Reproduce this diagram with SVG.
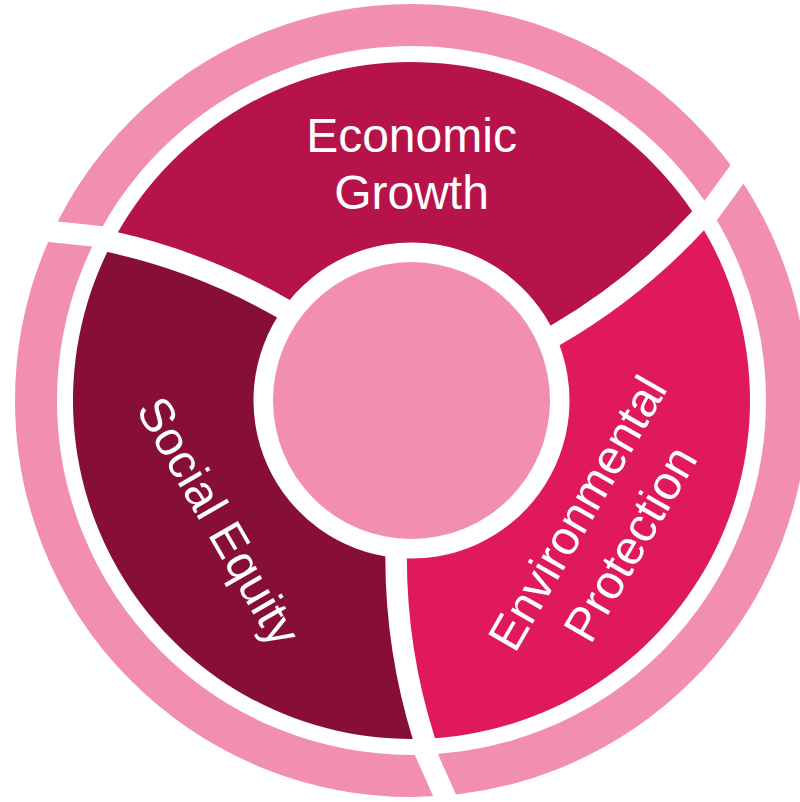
<svg xmlns="http://www.w3.org/2000/svg" width="800" height="802" viewBox="0 0 800 802">
  <style>
    .ring { fill: none; stroke: #F28FAE; stroke-width: 42; }
    .hub { fill: #F28FAE; }
    .gap { fill: none; stroke: #FFFFFF; stroke-width: 21.5; stroke-linecap: butt; }
    .label { font-family: "Liberation Sans", Arial, sans-serif; font-size: 48px; fill: #FFFFFF; text-anchor: middle; }
  </style>
  <defs>
    <path id="seg" d="M 423.90 738.77 A 338.5 338.5 0 0 1 112.34 242.11 Q 202.76 262.26 283.03 308.52 A 158 158 0 0 0 396.08 557.75 Q 396.15 650.39 423.90 738.77 Z"/>
  </defs>
  <rect x="0" y="0" width="800" height="802" fill="#FFFFFF"/>

  <g id="outer-ring">
    <circle class="ring" cx="411.5" cy="400.5" r="375.5"/>
    <g id="ring-gaps">
      <path class="gap" d="M 423.44 747.86 L 447.81 802.69"/>
      <path class="gap" d="M 423.44 747.86 L 447.81 802.69" transform="rotate(120 411.5 400.5)"/>
      <path class="gap" d="M 423.44 747.86 L 447.81 802.69" transform="rotate(240 411.5 400.5)"/>
    </g>
  </g>

  <g id="economic-growth">
    <use href="#seg" fill="#B5134A" transform="rotate(120 411.5 400.5)"/>
  </g>
  <g id="social-equity">
    <use href="#seg" fill="#870E36"/>
  </g>
  <g id="environmental-protection">
    <use href="#seg" fill="#E0195C" transform="rotate(240 411.5 400.5)"/>
  </g>

  <g id="connectors">
    <path class="gap" d="M 396.08 547.75 L 396.08 557.75 Q 396.15 650.39 423.90 738.77 L 426.90 748.30"/>
    <path class="gap" d="M 396.08 547.75 L 396.08 557.75 Q 396.15 650.39 423.90 738.77 L 426.90 748.30" transform="rotate(120 411.5 400.5)"/>
    <path class="gap" d="M 396.08 547.75 L 396.08 557.75 Q 396.15 650.39 423.90 738.77 L 426.90 748.30" transform="rotate(240 411.5 400.5)"/>
  </g>

  <g id="center">
    <circle class="hub" cx="411.5" cy="400.5" r="138.5"/>
  </g>

  <g id="labels">
    <text class="label" x="411.5" y="151.5">Economic</text>
    <text class="label" x="411.5" y="209">Growth</text>
    <text class="label" transform="translate(204.5 529.5) rotate(60)" x="0" y="0">Social Equity</text>
    <text class="label" transform="translate(618.1 536.6) rotate(-60)"><tspan x="0" y="-30.5">Environmental</tspan><tspan x="0" y="30.5">Protection</tspan></text>
  </g>
</svg>
